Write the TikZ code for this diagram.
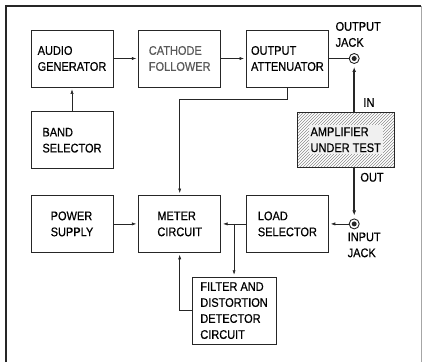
\documentclass[tikz,border=0pt]{standalone}
\usepackage{fontspec}
\setmainfont{Liberation Sans}[FakeStretch=0.88, FakeBold=0.5]
\usetikzlibrary{arrows.meta,positioning,patterns}

\begin{document}
\begin{tikzpicture}[x=1pt, y=1pt,
    font=\fontsize{12.5}{16}\selectfont,
    block/.style={draw=black!85, line width=0.7pt, fill=white, align=left, minimum width=82pt, minimum height=57pt, inner sep=3pt},
    ampbox/.style={draw=black!85, line width=0.7pt, pattern=north east lines, pattern color=black!45, minimum width=97pt, minimum height=55pt},
    amplabel/.style={fill=black!6, align=left, inner sep=2pt},
    jack/.style={circle, draw=black!85, line width=0.9pt, fill=white, minimum size=10pt, inner sep=0pt, path picture={\fill[black!85] (path picture bounding box.center) circle (2.5pt);}},
    lbl/.style={align=left, inner sep=0pt},
    wire/.style={line width=0.6pt, draw=black!85},
    arrow/.style={wire, -{Latex[length=4.5pt,width=3.2pt]}, shorten >=2pt},
    signal/.style={line width=2pt, draw=black!85, -{Latex[length=5pt,width=3.8pt]}, shorten >=3pt}
  ]
    \useasboundingbox (0,0) rectangle (423,-362);
    % frame
    \draw[line width=1.5pt, black!85] (6,-362) -- (6,-6) -- (421,-6);
    \draw[line width=0.6pt, black!35] (421,-6) -- (421,-362);

    % top row
    \node[block] (audio) at (72,-58.5) {AUDIO\\GENERATOR};
    \node[block, right=25pt of audio, text=black!65] (cathode) {CATHODE\\FOLLOWER};
    \node[block, right=25pt of cathode] (atten) {OUTPUT\\ATTENUATOR};
    \node[block, below=24pt of audio] (band) {BAND\\SELECTOR};

    % bottom row
    \node[block, below=26pt of band] (power) {POWER\\SUPPLY};
    \node[block, right=25pt of power] (meter) {METER\\CIRCUIT};
    \node[block, right=25pt of meter] (load) {LOAD\\SELECTOR};
    \node[block, minimum width=84pt, minimum height=67pt, below=24pt of meter.south east, xshift=13pt] (filter) {FILTER AND\\DISTORTION\\DETECTOR\\CIRCUIT};

    % jacks and amplifier
    \node[jack, right=20pt of atten] (outjack) {};
    \node[jack, right=20pt of load] (injack) {};
    \node[ampbox, below=48pt of outjack, xshift=-8.5pt] (amp) {};
    \node[amplabel] (amptext) at (amp) {AMPLIFIER\\UNDER TEST};

    \node[lbl, above=6pt of outjack, xshift=4pt] (outjacklbl) {OUTPUT\\JACK};
    \node[lbl, anchor=south west] (inlbl) at ([xshift=9pt,yshift=5pt]amp.north -| outjack) {IN};
    \node[lbl, anchor=north west] (outlbl) at ([xshift=6pt,yshift=-5pt]amp.south -| injack) {OUT};
    \node[lbl, below=3pt of injack, xshift=10pt] (injacklbl) {INPUT\\JACK};

    % connections
    \draw[arrow] (audio) -- (cathode);
    \draw[arrow] (cathode) -- (atten);
    \draw[wire] (atten) -- (outjack);
    \draw[arrow] (band) -- (audio);
    \draw[arrow] (atten.south) -- ++(0,-12) -| (meter.north);
    \draw[arrow] (power) -- (meter);
    \draw[arrow] (load) -- (meter);
    \draw[arrow] (filter.north |- load.west) -- (filter.north);
    \draw[arrow] (filter.west) -| (meter.south);
    \draw[arrow] (injack) -- (load);
    \draw[signal] (amp.north -| outjack) -- (outjack);
    \draw[signal] (amp.south -| injack) -- (injack);
  \end{tikzpicture}
\end{document}
